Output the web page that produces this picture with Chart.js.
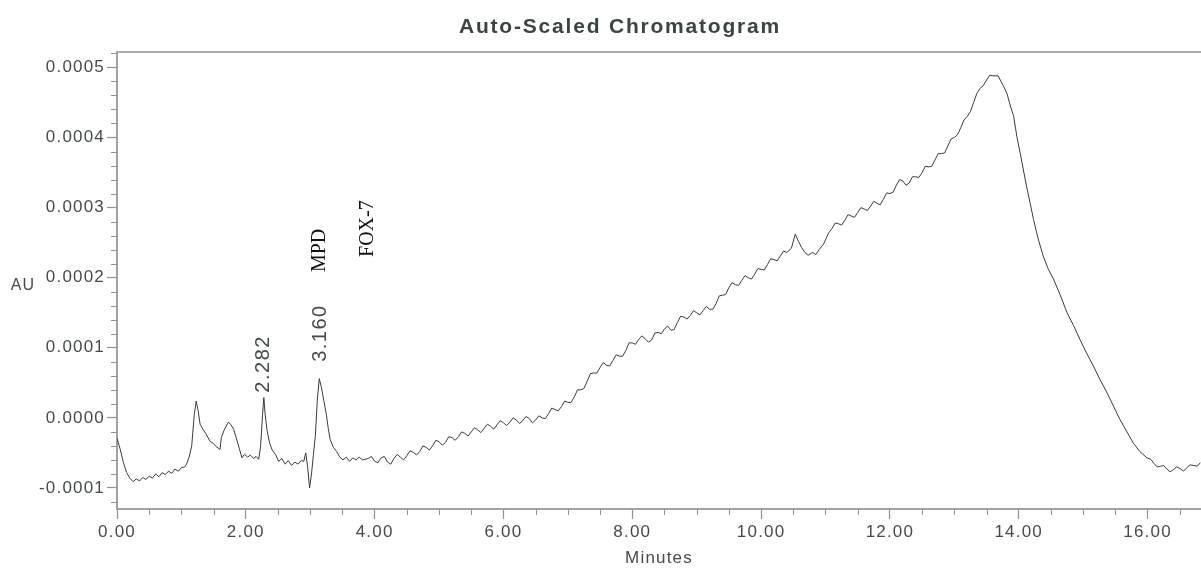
<!DOCTYPE html>
<html>
<head>
<meta charset="utf-8">
<script src="https://cdn.jsdelivr.net/npm/chart.js@4.4.0/dist/chart.umd.min.js"></script>
<style>
  html, body { margin: 0; padding: 0; background: #fff; }
  #wrap { width: 1201px; height: 568px; }
</style>
</head>
<body>
<div id="wrap"><canvas id="chromChart" width="1201" height="568"></canvas></div>
<script>
// retention time (min)
const times = [
  0.00, 0.05, 0.10, 0.15, 0.20, 0.25, 0.30, 0.35, 0.40, 0.45,
  0.50, 0.55, 0.60, 0.65, 0.70, 0.75, 0.80, 0.85, 0.90, 0.95,
  1.00, 1.05, 1.08, 1.12, 1.16, 1.20, 1.23, 1.26, 1.29, 1.34,
  1.39, 1.44, 1.49, 1.54, 1.60, 1.62, 1.67, 1.73, 1.77, 1.81,
  1.85, 1.90, 1.94, 1.98, 2.03, 2.07, 2.12, 2.16, 2.20, 2.23,
  2.26, 2.28, 2.30, 2.33, 2.37, 2.41, 2.46, 2.51, 2.56, 2.61,
  2.66, 2.71, 2.76, 2.81, 2.86, 2.90, 2.93, 2.96, 2.99, 3.02,
  3.05, 3.08, 3.11, 3.14, 3.17, 3.21, 3.25, 3.28, 3.31, 3.36,
  3.41, 3.46, 3.51, 3.56, 3.61, 3.66, 3.71, 3.76, 3.81, 3.90,
  4.00, 4.10, 4.20, 4.30, 4.40, 4.50, 4.60, 4.70, 4.80, 4.90,
  5.00, 5.10, 5.20, 5.30, 5.40, 5.50, 5.60, 5.70, 5.80, 5.90,
  6.00, 6.10, 6.20, 6.30, 6.40, 6.50, 6.60, 6.70, 6.80, 6.90,
  7.00, 7.10, 7.20, 7.30, 7.40, 7.50, 7.60, 7.70, 7.80, 7.90,
  8.00, 8.10, 8.20, 8.30, 8.40, 8.50, 8.60, 8.70, 8.80, 8.90,
  9.00, 9.10, 9.20, 9.30, 9.40, 9.50, 9.60, 9.70, 9.80, 9.90,
  10.00, 10.10, 10.20, 10.30, 10.40, 10.47, 10.53, 10.58, 10.63, 10.68,
  10.73, 10.80, 10.90, 10.97, 11.05, 11.10, 11.20, 11.30, 11.40, 11.50,
  11.60, 11.70, 11.80, 11.90, 12.00, 12.10, 12.20, 12.30, 12.40, 12.50,
  12.60, 12.70, 12.80, 12.90, 13.00, 13.10, 13.20, 13.30, 13.40, 13.50,
  13.60, 13.68, 13.76, 13.82, 13.87, 13.92, 13.97, 14.02, 14.07, 14.12,
  14.18, 14.23, 14.30, 14.38, 14.46, 14.54, 14.65, 14.75, 14.85, 14.95,
  15.05, 15.16, 15.26, 15.37, 15.47, 15.57, 15.68, 15.78, 15.88, 15.99,
  16.10, 16.20, 16.30, 16.40, 16.50, 16.61, 16.72, 16.82
];

// detector signal, in units of 1e-4 AU
const absorbance = [
  -0.29, -0.45, -0.64, -0.78, -0.86, -0.91, -0.87, -0.90, -0.85, -0.88,
  -0.83, -0.86, -0.80, -0.84, -0.78, -0.81, -0.76, -0.79, -0.73, -0.76,
  -0.71, -0.70, -0.66, -0.56, -0.40, 0.05, 0.24, 0.10, -0.09, -0.17,
  -0.24, -0.33, -0.36, -0.41, -0.45, -0.28, -0.16, -0.06, -0.10, -0.16,
  -0.28, -0.44, -0.57, -0.52, -0.56, -0.53, -0.58, -0.55, -0.59, -0.40,
  0.05, 0.29, 0.05, -0.18, -0.36, -0.46, -0.52, -0.62, -0.58, -0.66,
  -0.61, -0.68, -0.63, -0.66, -0.61, -0.62, -0.50, -0.70, -1.00, -0.80,
  -0.52, -0.25, 0.25, 0.56, 0.45, 0.25, 0.05, -0.15, -0.31, -0.42,
  -0.48, -0.56, -0.60, -0.56, -0.62, -0.57, -0.60, -0.56, -0.60, -0.58,
  -0.62, -0.57, -0.63, -0.58, -0.56, -0.54, -0.49, -0.48, -0.42, -0.40,
  -0.34, -0.35, -0.28, -0.27, -0.22, -0.20, -0.17, -0.15, -0.12, -0.10,
  -0.07, -0.06, -0.03, -0.04, -0.01, -0.03, 0.00, 0.06, 0.12, 0.16,
  0.22, 0.30, 0.40, 0.52, 0.64, 0.72, 0.75, 0.82, 0.88, 0.96,
  1.07, 1.12, 1.13, 1.11, 1.22, 1.27, 1.25, 1.36, 1.44, 1.46,
  1.50, 1.53, 1.55, 1.63, 1.75, 1.86, 1.90, 1.96, 2.00, 2.05,
  2.12, 2.19, 2.26, 2.31, 2.36, 2.42, 2.62, 2.52, 2.43, 2.36,
  2.32, 2.36, 2.40, 2.48, 2.64, 2.70, 2.77, 2.82, 2.88, 2.93,
  2.98, 3.02, 3.06, 3.12, 3.20, 3.32, 3.38, 3.35, 3.44, 3.50,
  3.58, 3.68, 3.77, 3.88, 4.00, 4.14, 4.30, 4.50, 4.70, 4.82,
  4.88, 4.88, 4.74, 4.62, 4.45, 4.31, 4.02, 3.79, 3.55, 3.31,
  3.05, 2.83, 2.56, 2.31, 2.12, 1.98, 1.74, 1.50, 1.32, 1.12,
  0.93, 0.74, 0.55, 0.36, 0.17, -0.02, -0.20, -0.36, -0.48, -0.57,
  -0.65, -0.69, -0.73, -0.74, -0.72, -0.71, -0.68, -0.64
];

// extra in-between readings of the baseline fuzz (min / 1e-4 AU)
const fineTimes = [
  3.95, 4.05, 4.15, 4.25, 4.35, 4.45, 4.55, 4.65, 4.75, 4.85,
  4.95, 5.05, 5.15, 5.25, 5.35, 5.45, 5.55, 5.65, 5.75, 5.85,
  5.95, 6.05, 6.15, 6.25, 6.35, 6.45, 6.55, 6.65, 6.75, 6.85,
  6.95, 7.05, 7.15, 7.25, 7.35, 7.45, 7.55, 7.65, 7.75, 7.85,
  7.95, 8.05, 8.15, 8.25, 8.35, 8.45, 8.55, 8.65, 8.75, 8.85,
  8.95, 9.05, 9.15, 9.25, 9.35, 9.45, 9.55, 9.65, 9.75, 9.85,
  9.95, 10.05, 10.15, 10.25, 10.35, 10.85, 11.15, 11.25, 11.35, 11.45,
  11.55, 11.65, 11.75, 11.85, 11.95, 12.05, 12.15, 12.25, 12.35, 12.45,
  12.55, 12.65, 12.75, 12.85, 12.95, 13.05, 13.15, 13.25, 13.35, 13.45,
  13.55, 16.05, 16.15, 16.25, 16.35, 16.45, 16.56, 16.66, 16.77
];
const fineAbsorbance = [
  -0.55, -0.64, -0.55, -0.66, -0.52, -0.60, -0.47, -0.53, -0.40, -0.46,
  -0.32, -0.39, -0.27, -0.32, -0.20, -0.26, -0.14, -0.21, -0.09, -0.16,
  -0.04, -0.11, 0.00, -0.08, 0.02, -0.07, 0.03, -0.01, 0.14, 0.10,
  0.24, 0.22, 0.40, 0.42, 0.63, 0.64, 0.79, 0.74, 0.90, 0.88,
  1.07, 1.05, 1.17, 1.08, 1.21, 1.20, 1.31, 1.26, 1.45, 1.41,
  1.53, 1.47, 1.59, 1.55, 1.74, 1.76, 1.93, 1.89, 2.03, 1.98,
  2.13, 2.11, 2.27, 2.24, 2.38, 2.33, 2.78, 2.75, 2.90, 2.86,
  3.00, 2.96, 3.09, 3.04, 3.21, 3.22, 3.40, 3.32, 3.44, 3.43,
  3.59, 3.59, 3.77, 3.78, 3.98, 4.04, 4.25, 4.37, 4.63, 4.74,
  4.89, -0.59, -0.70, -0.68, -0.77, -0.70, -0.76, -0.67, -0.69
];

const yTickValues = [-0.0001, 0, 0.0001, 0.0002, 0.0003, 0.0004, 0.0005];
const xTickValues = [0, 2, 4, 6, 8, 10, 12, 14, 16];

// integrated peaks (labelled with retention time)
const peakTimes = [2.282, 3.160];
const peakLabelLevels = [0.36, 0.80];   // 1e-4 AU, where the label starts

// compound names written above the trace
const compoundNames = ['MPD', 'FOX-7'];
const compoundTimes = [3.15, 3.90];
const compoundLevels = [2.39, 2.70];   // 1e-4 AU

const SCALE = 1e-4;
const FONT = "'Liberation Sans', Arial, sans-serif";
const TEXT_COLOR = '#454b4b';
const AXIS_COLOR = '#9ea3a3';
const TICK_COLOR = '#8e9393';

const points = times.map((t, i) => ({ x: t, y: absorbance[i] * SCALE }))
  .concat(fineTimes.map((t, i) => ({ x: t, y: fineAbsorbance[i] * SCALE })))
  .sort((a, b) => a.x - b.x);

const chromPlugin = {
  id: 'chromDecor',
  beforeDraw(chart) {
    chart.ctx.letterSpacing = '1.2px';
  },
  afterDraw(chart) {
    const ctx = chart.ctx;
    const area = chart.chartArea;
    const xS = chart.scales.x;
    const yS = chart.scales.y;

    ctx.save();
    // top frame line
    ctx.strokeStyle = '#a9adad';
    ctx.lineWidth = 2;
    ctx.beginPath();
    ctx.moveTo(area.left, area.top);
    ctx.lineTo(area.right, area.top);
    ctx.stroke();

    // minor ticks
    ctx.strokeStyle = TICK_COLOR;
    ctx.lineWidth = 1;
    ctx.beginPath();
    for (let k = -6; k <= 26; k++) {
      if (k % 5 === 0) continue;
      const py = Math.round(yS.getPixelForValue(k * 2e-5)) + 0.5;
      ctx.moveTo(area.left - 6, py);
      ctx.lineTo(area.left, py);
    }
    for (let k = 1; k <= 33; k++) {
      if (k % 4 === 0) continue;
      const px = Math.round(xS.getPixelForValue(k * 0.5)) + 0.5;
      ctx.moveTo(px, area.bottom);
      ctx.lineTo(px, area.bottom + 6);
    }
    ctx.stroke();

    // title
    ctx.fillStyle = '#3b4343';
    ctx.letterSpacing = '1.8px';
    ctx.font = 'bold 21px ' + FONT;
    ctx.textAlign = 'center';
    ctx.textBaseline = 'middle';
    ctx.fillText('Auto-Scaled Chromatogram', 620, 27);

    // axis titles
    ctx.letterSpacing = '1.2px';
    ctx.fillStyle = TEXT_COLOR;
    ctx.font = '16px ' + FONT;
    ctx.fillText('AU', 23, 286);
    ctx.font = '17px ' + FONT;
    ctx.fillText('Minutes', 659, 558);

    // retention time labels
    ctx.font = '20px ' + FONT;
    ctx.letterSpacing = '1.5px';
    ctx.textAlign = 'left';
    peakTimes.forEach((t, i) => {
      ctx.save();
      ctx.translate(xS.getPixelForValue(t), yS.getPixelForValue(peakLabelLevels[i] * SCALE));
      ctx.rotate(-Math.PI / 2);
      ctx.fillText(t.toFixed(3), 0, 0);
      ctx.restore();
    });

    // compound names
    ctx.letterSpacing = '0px';
    ctx.fillStyle = '#111';
    ctx.font = "20px 'Liberation Serif', 'Times New Roman', serif";
    ctx.textAlign = 'center';
    compoundNames.forEach((name, i) => {
      ctx.save();
      ctx.translate(xS.getPixelForValue(compoundTimes[i]), yS.getPixelForValue(compoundLevels[i] * SCALE));
      ctx.rotate(-Math.PI / 2);
      ctx.fillText(name, 0, 0);
      ctx.restore();
    });
    ctx.restore();
  }
};

const ctx = document.getElementById('chromChart').getContext('2d');
new Chart(ctx, {
  type: 'line',
  data: {
    datasets: [{
      data: points,
      borderColor: '#353d3d',
      borderWidth: 1,
      pointRadius: 0,
      tension: 0,
      fill: false
    }]
  },
  options: {
    responsive: false,
    animation: false,
    devicePixelRatio: 1,
    layout: { padding: { top: 52, left: 0, right: 0, bottom: 0 } },
    plugins: {
      legend: { display: false },
      title: { display: false },
      tooltip: { enabled: false }
    },
    scales: {
      x: {
        type: 'linear',
        min: 0,
        max: 16.83,
        afterFit(s) { s.height = 59; },
        afterBuildTicks(s) { s.ticks = xTickValues.map(v => ({ value: v })); },
        grid: { drawOnChartArea: false, drawTicks: true, tickLength: 10, tickColor: TICK_COLOR, tickWidth: 1.2 },
        border: { display: true, color: AXIS_COLOR, width: 2 },
        ticks: {
          callback: v => Number(v).toFixed(2),
          font: { size: 17, family: FONT },
          color: TEXT_COLOR,
          padding: 3,
          maxRotation: 0,
          autoSkip: false
        }
      },
      y: {
        type: 'linear',
        min: -0.00013,
        max: 0.000522,
        afterFit(s) { s.width = 117; },
        afterBuildTicks(s) { s.ticks = yTickValues.map(v => ({ value: v })); },
        grid: { drawOnChartArea: false, drawTicks: true, tickLength: 10, tickColor: TICK_COLOR, tickWidth: 1.2 },
        border: { display: true, color: AXIS_COLOR, width: 2 },
        ticks: {
          callback: v => Number(v).toFixed(4),
          font: { size: 17, family: FONT },
          color: TEXT_COLOR,
          padding: 2,
          autoSkip: false
        }
      }
    }
  },
  plugins: [chromPlugin]
});
</script>
</body>
</html>
